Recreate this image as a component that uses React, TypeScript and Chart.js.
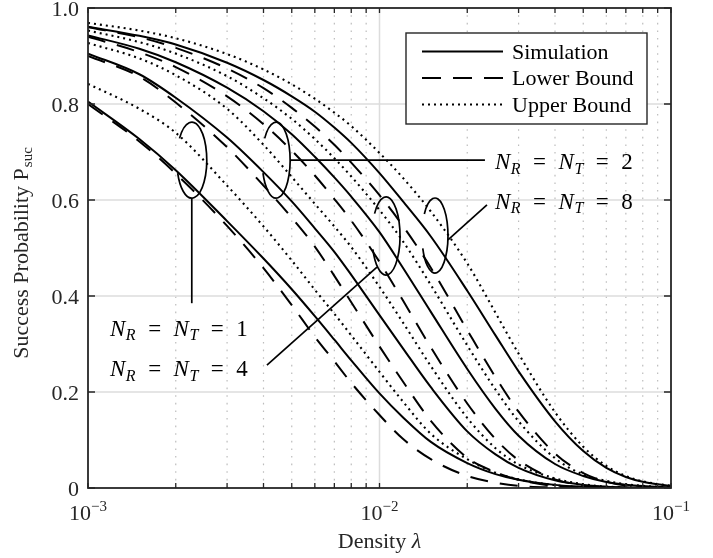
import React, { useEffect, useRef } from "react";
import { Chart, registerables } from "chart.js";

Chart.register(...registerables);

// ---------- data ----------
const lambda = [0.001, 0.0015, 0.002, 0.003, 0.004, 0.005, 0.006, 0.007, 0.008, 0.01, 0.012, 0.015, 0.02, 0.025, 0.03, 0.04, 0.05, 0.06, 0.07, 0.08, 0.1];

// N_R = N_T = 1
const sim1 = [0.805, 0.727, 0.662, 0.556, 0.478, 0.414, 0.358, 0.309, 0.266, 0.197, 0.148, 0.096, 0.052, 0.029, 0.017, 0.0065, 0.0027, 0.0012, 0.0006, 0.0003, 0.0001];
const low1 = [0.8, 0.722, 0.655, 0.546, 0.458, 0.381, 0.315, 0.264, 0.219, 0.152, 0.103, 0.06, 0.025, 0.011, 0.0045, 0.001, 0.0002, 0, 0, 0, 0];
const up1 = [0.842, 0.79, 0.74, 0.63, 0.545, 0.474, 0.413, 0.363, 0.318, 0.242, 0.181, 0.113, 0.06, 0.032, 0.018, 0.006, 0.002, 0.001, 0.0004, 0.0002, 0];
// N_R = N_T = 2
const sim2 = [0.905, 0.862, 0.813, 0.73, 0.658, 0.597, 0.541, 0.492, 0.444, 0.36, 0.292, 0.21, 0.118, 0.07, 0.042, 0.016, 0.0065, 0.0028, 0.0012, 0.0006, 0.0001];
const low2 = [0.9, 0.857, 0.803, 0.71, 0.63, 0.563, 0.503, 0.442, 0.387, 0.295, 0.223, 0.14, 0.063, 0.033, 0.017, 0.004, 0.001, 0.0003, 0, 0, 0];
const up2 = [0.927, 0.895, 0.86, 0.79, 0.715, 0.648, 0.592, 0.545, 0.502, 0.419, 0.346, 0.254, 0.146, 0.083, 0.049, 0.02, 0.008, 0.003, 0.0015, 0.0007, 0.0001];
// N_R = N_T = 4
const sim4 = [0.943, 0.915, 0.887, 0.834, 0.785, 0.737, 0.69, 0.647, 0.607, 0.533, 0.46, 0.367, 0.248, 0.165, 0.109, 0.05, 0.025, 0.0125, 0.007, 0.004, 0.0015];
const low4 = [0.94, 0.908, 0.877, 0.816, 0.758, 0.703, 0.651, 0.602, 0.557, 0.471, 0.392, 0.293, 0.176, 0.102, 0.058, 0.018, 0.006, 0.002, 0.0008, 0.0003, 0];
const up4 = [0.953, 0.929, 0.905, 0.858, 0.812, 0.769, 0.727, 0.687, 0.649, 0.579, 0.515, 0.423, 0.297, 0.205, 0.139, 0.062, 0.028, 0.015, 0.008, 0.0045, 0.0015];
// N_R = N_T = 8
const sim8 = [0.961, 0.942, 0.924, 0.886, 0.85, 0.816, 0.784, 0.751, 0.719, 0.656, 0.598, 0.524, 0.411, 0.318, 0.243, 0.139, 0.077, 0.042, 0.023, 0.013, 0.004];
const low8 = [0.96, 0.939, 0.917, 0.874, 0.833, 0.792, 0.753, 0.715, 0.678, 0.61, 0.547, 0.459, 0.329, 0.231, 0.159, 0.072, 0.031, 0.013, 0.005, 0.002, 0.0003];
const up8 = [0.969, 0.953, 0.937, 0.904, 0.872, 0.841, 0.811, 0.782, 0.754, 0.698, 0.647, 0.576, 0.468, 0.365, 0.28, 0.158, 0.086, 0.046, 0.025, 0.014, 0.0045];

const yTickValues = [0, 0.2, 0.4, 0.6, 0.8, 1.0];
const yTickLabels = ["0", "0.2", "0.4", "0.6", "0.8", "1.0"];
const xDecades = [0.001, 0.01, 0.1];
const xDecadeExponents = ["\u22123", "\u22122", "\u22121"];
const xMinorSteps = [2, 3, 4, 5, 6, 7, 8, 9];
const legendLabels = ["Simulation", "Lower Bound", "Upper Bound"];

// kind: 0 = simulation (solid), 1 = lower bound (dashed), 2 = upper bound (dotted)
const series = [
  { name: "Simulation, N=1", values: sim1, kind: 0 },
  { name: "Lower Bound, N=1", values: low1, kind: 1 },
  { name: "Upper Bound, N=1", values: up1, kind: 2 },
  { name: "Simulation, N=2", values: sim2, kind: 0 },
  { name: "Lower Bound, N=2", values: low2, kind: 1 },
  { name: "Upper Bound, N=2", values: up2, kind: 2 },
  { name: "Simulation, N=4", values: sim4, kind: 0 },
  { name: "Lower Bound, N=4", values: low4, kind: 1 },
  { name: "Upper Bound, N=4", values: up4, kind: 2 },
  { name: "Simulation, N=8", values: sim8, kind: 0 },
  { name: "Lower Bound, N=8", values: low8, kind: 1 },
  { name: "Upper Bound, N=8", values: up8, kind: 2 },
];

// annotation anchors in data coordinates
const groupNotes = [
  { n: "1", ell: [0.00227, 0.683], line: [[0.00227, 0.604], [0.00227, 0.385]], label: [0.00119, 0.334] },
  { n: "2", ell: [0.00442, 0.683], line: [[0.00493, 0.683], [0.023, 0.683]], label: [0.0249, 0.681] },
  { n: "4", ell: [0.01053, 0.525], line: [[0.0098, 0.46], [0.00411, 0.256]], label: [0.00119, 0.25] },
  { n: "8", ell: [0.0155, 0.526], line: [[0.01718, 0.517], [0.02337, 0.59]], label: [0.0249, 0.598] },
];

// ---------- styles ----------
const SERIF = '"Liberation Serif", "Times New Roman", serif';
const AXIS = "#262626";
const DASH = [18, 12];
const DOT = [2, 4];
const ELL_R = [[15, 38], [14, 38], [14, 39], [13, 37.5]];

function dashFor(kind: number) {
  return kind === 0 ? [] : kind === 1 ? DASH : DOT;
}

function drawEq(ctx: CanvasRenderingContext2D, x0: number, yc: number, n: string) {
  const base = yc + 8;
  const MAIN = `23px ${SERIF}`;
  const MAINI = `italic 23px ${SERIF}`;
  const SUBI = `italic 16px ${SERIF}`;
  const gap = 12.5;
  ctx.fillStyle = "#000";
  ctx.textBaseline = "alphabetic";
  ctx.textAlign = "left";
  let x = x0;
  const piece = (t: string, font: string, dy: number, after: number) => {
    ctx.font = font;
    ctx.fillText(t, x, base + dy);
    x += ctx.measureText(t).width + after;
  };
  piece("N", MAINI, 0, 0.5);
  piece("R", SUBI, 4.5, gap);
  piece("=", MAIN, 0, gap);
  piece("N", MAINI, 0, 0.5);
  piece("T", SUBI, 4.5, gap);
  piece("=", MAIN, 0, gap);
  piece(n, MAIN, 0, 0);
}

const framePlugin = {
  id: "matlabFrame",
  beforeDatasetsDraw(chart: any) {
    const ctx: CanvasRenderingContext2D = chart.ctx;
    const xs = chart.scales.x;
    const ys = chart.scales.y;
    const { left, right, top, bottom } = chart.chartArea;
    ctx.save();
    // minor x grid (dotted)
    ctx.strokeStyle = "#bdbdbd";
    ctx.lineWidth = 1.2;
    ctx.setLineDash([1.6, 6]);
    for (let d = 0; d < xDecades.length - 1; d++) {
      for (const m of xMinorSteps) {
        const px = xs.getPixelForValue(xDecades[d] * m);
        ctx.beginPath();
        ctx.moveTo(px, bottom);
        ctx.lineTo(px, top);
        ctx.stroke();
      }
    }
    // major grid
    ctx.setLineDash([]);
    ctx.strokeStyle = "#dcdcdc";
    ctx.lineWidth = 1.5;
    for (const v of yTickValues) {
      if (v === 0 || v === 1) continue;
      const py = ys.getPixelForValue(v);
      ctx.beginPath();
      ctx.moveTo(left, py);
      ctx.lineTo(right, py);
      ctx.stroke();
    }
    for (const v of xDecades) {
      const px = xs.getPixelForValue(v);
      if (px <= left + 1 || px >= right - 1) continue;
      ctx.beginPath();
      ctx.moveTo(px, bottom);
      ctx.lineTo(px, top);
      ctx.stroke();
    }
    ctx.restore();
  },
  afterDatasetsDraw(chart: any) {
    const ctx: CanvasRenderingContext2D = chart.ctx;
    const xs = chart.scales.x;
    const ys = chart.scales.y;
    const { left, right, top, bottom } = chart.chartArea;
    ctx.save();

    // ---- annotations ----
    ctx.strokeStyle = "#000";
    ctx.lineWidth = 1.7;
    ctx.setLineDash([]);
    groupNotes.forEach((g, i) => {
      const cx = xs.getPixelForValue(g.ell[0]);
      const cy = ys.getPixelForValue(g.ell[1]);
      const [rx, ry] = ELL_R[i];
      const a0 = (215 * Math.PI) / 180;
      const a1 = a0 + (305 * Math.PI) / 180;
      ctx.beginPath();
      ctx.ellipse(cx, cy, rx, ry, 0, a0, a1, false);
      ctx.stroke();
      ctx.beginPath();
      ctx.moveTo(xs.getPixelForValue(g.line[0][0]), ys.getPixelForValue(g.line[0][1]));
      ctx.lineTo(xs.getPixelForValue(g.line[1][0]), ys.getPixelForValue(g.line[1][1]));
      ctx.stroke();
      drawEq(ctx, xs.getPixelForValue(g.label[0]), ys.getPixelForValue(g.label[1]), g.n);
    });

    // ---- axes box ----
    ctx.strokeStyle = AXIS;
    ctx.lineWidth = 1.8;
    ctx.strokeRect(left, top, right - left, bottom - top);

    // ---- ticks ----
    ctx.lineWidth = 1.3;
    for (const v of yTickValues) {
      const py = ys.getPixelForValue(v);
      ctx.beginPath();
      ctx.moveTo(left, py);
      ctx.lineTo(left + 7, py);
      ctx.moveTo(right, py);
      ctx.lineTo(right - 7, py);
      ctx.stroke();
    }
    const xTickVals: number[] = [];
    for (let d = 0; d < xDecades.length; d++) {
      xTickVals.push(xDecades[d]);
      if (d < xDecades.length - 1) for (const m of xMinorSteps) xTickVals.push(xDecades[d] * m);
    }
    for (const v of xTickVals) {
      const px = xs.getPixelForValue(v);
      ctx.beginPath();
      ctx.moveTo(px, bottom);
      ctx.lineTo(px, bottom - 5);
      ctx.moveTo(px, top);
      ctx.lineTo(px, top + 5);
      ctx.stroke();
    }

    // ---- tick labels ----
    ctx.fillStyle = AXIS;
    ctx.textBaseline = "alphabetic";
    ctx.textAlign = "right";
    ctx.font = `22px ${SERIF}`;
    yTickValues.forEach((v, i) => {
      ctx.fillText(yTickLabels[i], left - 9, ys.getPixelForValue(v) + 7.8);
    });
    ctx.textAlign = "left";
    xDecades.forEach((v, i) => {
      const px = xs.getPixelForValue(v);
      ctx.font = `22px ${SERIF}`;
      const w10 = ctx.measureText("10").width;
      ctx.font = `15px ${SERIF}`;
      const ws = ctx.measureText(xDecadeExponents[i]).width;
      const x0 = px - (w10 + ws) / 2;
      ctx.font = `22px ${SERIF}`;
      ctx.fillText("10", x0, bottom + 32);
      ctx.font = `15px ${SERIF}`;
      ctx.fillText(xDecadeExponents[i], x0 + w10, bottom + 23);
    });

    // ---- axis titles ----
    ctx.font = `22px ${SERIF}`;
    const tA = "Density ";
    const wA = ctx.measureText(tA).width;
    ctx.font = `italic 22px ${SERIF}`;
    const wL = ctx.measureText("\u03bb").width;
    const xc = (left + right) / 2;
    ctx.font = `22px ${SERIF}`;
    ctx.fillText(tA, xc - (wA + wL) / 2, 548);
    ctx.font = `italic 22px ${SERIF}`;
    ctx.fillText("\u03bb", xc - (wA + wL) / 2 + wA, 548);

    ctx.save();
    ctx.translate(28, (top + bottom) / 2 + 5);
    ctx.rotate(-Math.PI / 2);
    ctx.font = `22px ${SERIF}`;
    const tY = "Success Probability P";
    const wY = ctx.measureText(tY).width;
    ctx.font = `15px ${SERIF}`;
    const wS = ctx.measureText("suc").width;
    const sx = -(wY + wS + 1) / 2;
    ctx.font = `22px ${SERIF}`;
    ctx.fillText(tY, sx, 0);
    ctx.font = `15px ${SERIF}`;
    ctx.fillText("suc", sx + wY + 1, 4);
    ctx.restore();

    // ---- legend ----
    const lx = 406, ly = 33, lw = 241, lh = 91;
    ctx.fillStyle = "#fff";
    ctx.fillRect(lx, ly, lw, lh);
    ctx.strokeStyle = AXIS;
    ctx.lineWidth = 1.4;
    ctx.setLineDash([]);
    ctx.strokeRect(lx, ly, lw, lh);
    const rows = [51.5, 78, 104.5];
    legendLabels.forEach((t, i) => {
      ctx.strokeStyle = "#000";
      ctx.lineWidth = 2;
      ctx.setLineDash(i === 0 ? [] : i === 1 ? [19, 12] : DOT);
      ctx.beginPath();
      ctx.moveTo(lx + 16, rows[i]);
      ctx.lineTo(lx + 97, rows[i]);
      ctx.stroke();
      ctx.setLineDash([]);
      ctx.fillStyle = "#000";
      ctx.font = `22px ${SERIF}`;
      ctx.textAlign = "left";
      ctx.fillText(t, lx + 106, rows[i] + 7);
    });

    ctx.restore();
  },
};

export default function App() {
  const ref = useRef<HTMLCanvasElement | null>(null);
  useEffect(() => {
    document.body.style.margin = "0";
    const canvas = ref.current;
    if (!canvas) return;
    const chart = new Chart(canvas, {
      type: "line",
      data: {
        datasets: series.map((s) => ({
          label: s.name,
          data: lambda.map((x, i) => ({ x, y: s.values[i] })),
          borderColor: "#000",
          backgroundColor: "#000",
          borderWidth: s.kind === 2 ? 2.1 : 2,
          borderDash: dashFor(s.kind),
          borderCapStyle: "butt" as const,
          pointRadius: 0,
          fill: false,
          cubicInterpolationMode: "monotone" as const,
        })),
      },
      options: {
        responsive: false,
        animation: false,
        layout: { padding: { left: 88, top: 8, right: 42, bottom: 70 } },
        scales: {
          x: { type: "logarithmic", min: 0.001, max: 0.1, display: false },
          y: { type: "linear", min: 0, max: 1, display: false },
        },
        plugins: { legend: { display: false }, tooltip: { enabled: false } },
        events: [],
      },
      plugins: [framePlugin],
    } as any);
    return () => chart.destroy();
  }, []);
  return (
    <canvas
      ref={ref}
      width={713}
      height={558}
      style={{ position: "absolute", left: 0, top: 0, width: 713, height: 558, display: "block" }}
    />
  );
}
